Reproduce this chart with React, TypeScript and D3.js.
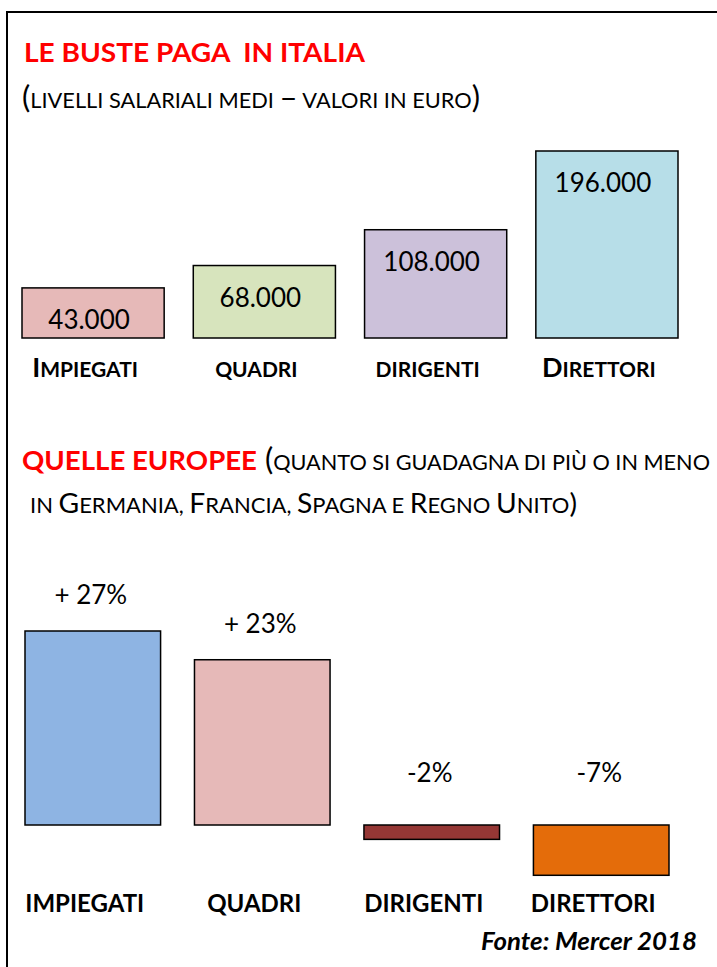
import React from 'react';
import * as d3 from 'd3';

const categories = ['IMPIEGATI', 'QUADRI', 'DIRIGENTI', 'DIRETTORI'];
const salaries = [43000, 68000, 108000, 196000];
const salaryLabels = ['43.000', '68.000', '108.000', '196.000'];
const salaryColors = ['#E6B9B8', '#D7E4BD', '#CCC1DA', '#B7DEE8'];
const topLabelBigInitial = [true, false, false, true];

const diffPct = [27, 23, -2, -7];
const diffLabels = ['+ 27%', '+ 23%', '-2%', '-7%'];
const diffColors = ['#8EB4E3', '#E6B9B8', '#953735', '#E46C0A'];

const title1 = 'LE BUSTE PAGA  IN ITALIA';
const subtitle1: [string, boolean][] = [
  ['(', true],
  ['LIVELLI SALARIALI MEDI ', false],
  ['–', true],
  [' VALORI IN EURO', false],
  [')', true],
];
const title2 = 'QUELLE EUROPEE';
const subtitle2a: [string, boolean][] = [
  [' (', true],
  ['QUANTO SI GUADAGNA DI PIÙ O IN MENO', false],
];
const subtitle2b: [string, boolean][] = [
  ['IN ', false], ['G', true], ['ERMANIA, ', false], ['F', true], ['RANCIA, ', false],
  ['S', true], ['PAGNA E ', false], ['R', true], ['EGNO ', false], ['U', true], ['NITO', false], [')', true],
];
const source = 'Fonte: Mercer 2018';

const FONT = 'Lato, "Open Sans", sans-serif';

function Mixed({ parts, big, small, ...rest }: any) {
  return (
    <text {...rest} style={{ whiteSpace: 'pre' }} fontFamily={FONT}>
      {parts.map(([t, b]: [string, boolean], i: number) => (
        <tspan key={i} fontSize={b ? big : small}>{t}</tspan>
      ))}
    </text>
  );
}

export default function App() {
  const W = 717, H = 967;

  // Top chart
  const xTop = d3.scaleBand<string>().domain(categories).range([22, 678]).paddingInner(0.17).paddingOuter(0);
  const yTop = d3.scaleLinear().domain([-13000, 196000]).range([338, 151]);

  // Bottom chart
  const xBot = d3.scaleBand<string>().domain(categories).range([25, 669]).paddingInner(0.2).paddingOuter(0);
  const yBot = d3.scaleLinear().domain([0, 27]).range([825, 631]);
  const zero = yBot(0);

  return (
    <svg width={W} height={H} style={{ position: 'absolute', left: 0, top: 0, background: '#fff' }}>
      <rect x={0} y={0} width={W} height={H} fill="#fff" />
      <path d={`M7,${H} V12 H${W}`} fill="none" stroke="#000" strokeWidth={2} />

      {/* Title 1 */}
      <text x={24} y={62} fill="#FF0000" fontFamily={FONT} fontWeight={700} fontSize={27}
        style={{ whiteSpace: 'pre' }} textLength={341} lengthAdjust="spacingAndGlyphs">{title1}</text>
      <Mixed parts={subtitle1} big={30} small={21} x={22} y={108} fill="#000"
        textLength={458} lengthAdjust="spacingAndGlyphs" />

      {/* Top bars */}
      {categories.map((c, i) => (
        <g key={c}>
          <rect x={xTop(c)} y={yTop(salaries[i])} width={xTop.bandwidth()} height={yTop(-13000) - yTop(salaries[i])}
            fill={salaryColors[i]} stroke="#000" strokeWidth={1.5} />
          <text x={xTop(c)! + xTop.bandwidth() / 2 - 4} y={yTop(salaries[i]) + 41} textAnchor="middle"
            fontFamily={FONT} fontSize={26} fill="#000">{salaryLabels[i]}</text>
          <text x={xTop(c)! + xTop.bandwidth() / 2 - 8} y={377} textAnchor="middle" fontFamily={FONT} fontWeight={700} fill="#000">
            {topLabelBigInitial[i] ? (
              <>
                <tspan fontSize={27}>{c[0]}</tspan>
                <tspan fontSize={21}>{c.slice(1)}</tspan>
              </>
            ) : (
              <tspan fontSize={21}>{c}</tspan>
            )}
          </text>
        </g>
      ))}

      {/* Title 2 */}
      <text x={22} y={470} fill="#FF0000" fontFamily={FONT} fontWeight={700} fontSize={27}
        textLength={235} lengthAdjust="spacingAndGlyphs">{title2}</text>
      <Mixed parts={subtitle2a} big={30} small={21} x={257} y={470} fill="#000"
        textLength={453} lengthAdjust="spacingAndGlyphs" />
      <Mixed parts={subtitle2b} big={27} small={21} x={30} y={513} fill="#000"
        textLength={547} lengthAdjust="spacingAndGlyphs" />

      {/* Bottom bars */}
      {categories.map((c, i) => {
        const v = diffPct[i];
        const y0 = v >= 0 ? yBot(v) : zero;
        const h = Math.abs(yBot(v) - zero);
        const cx = xBot(c)! + xBot.bandwidth() / 2;
        const labelY = v >= 0 ? yBot(v) - 27 : zero - 43;
        return (
          <g key={c}>
            <rect x={xBot(c)} y={y0} width={xBot.bandwidth()} height={h}
              fill={diffColors[i]} stroke="#000" strokeWidth={1.5} />
            <text x={cx - 2} y={labelY} textAnchor="middle" fontFamily={FONT} fontSize={26} fill="#000"
              style={{ whiteSpace: 'pre' }}>{diffLabels[i]}</text>
            <text x={cx - 8} y={912} textAnchor="middle" fontFamily={FONT} fontWeight={700} fontSize={24} fill="#000">{c}</text>
          </g>
        );
      })}

      <text x={697} y={950} textAnchor="end" fontFamily={FONT} fontWeight={700} fontStyle="italic" fontSize={24}
        fill="#000" textLength={216} lengthAdjust="spacingAndGlyphs">{source}</text>
    </svg>
  );
}
